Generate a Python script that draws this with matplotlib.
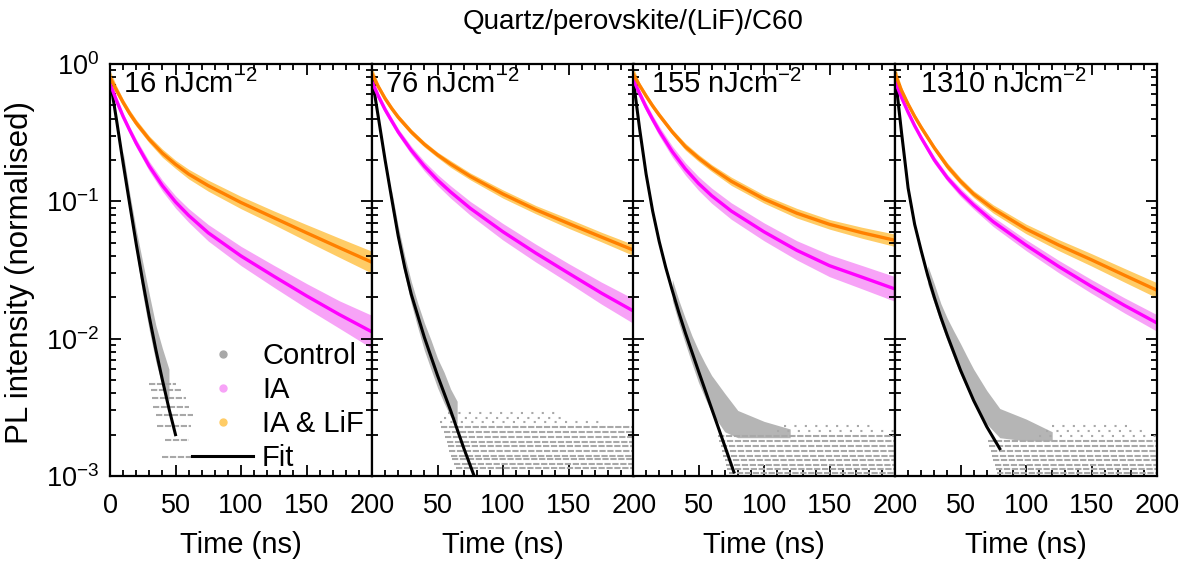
import matplotlib.pyplot as plt
import numpy as np
from matplotlib.lines import Line2D
from matplotlib.ticker import MultipleLocator, LogLocator

plt.rcParams['font.family'] = ['Liberation Sans', 'DejaVu Sans']
plt.rcParams['mathtext.fontset'] = 'custom'
plt.rcParams['mathtext.rm'] = 'Liberation Sans'
plt.rcParams['mathtext.it'] = 'Liberation Sans:italic'
plt.rcParams['mathtext.bf'] = 'Liberation Sans:bold'

fluences = ['16', '76', '155', '1310']

# IA and IA & LiF fits (normalised PL)
t_fit = [0, 5, 10, 15, 20, 30, 40, 50, 60, 75, 100, 125, 150, 175, 200]
lif_fit = [
    [0.80, 0.645, 0.525, 0.437, 0.372, 0.282, 0.224, 0.186, 0.158, 0.130, 0.098, 0.076, 0.059, 0.046, 0.036],
    [0.85, 0.68, 0.56, 0.475, 0.41, 0.32, 0.26, 0.218, 0.187, 0.152, 0.113, 0.087, 0.069, 0.055, 0.044],
    [0.85, 0.70, 0.585, 0.495, 0.425, 0.32, 0.25, 0.207, 0.175, 0.140, 0.104, 0.082, 0.068, 0.059, 0.052],
    [0.85, 0.64, 0.51, 0.415, 0.345, 0.245, 0.18, 0.14, 0.113, 0.088, 0.063, 0.048, 0.0375, 0.029, 0.0225],
]
ia_fit = [
    [0.72, 0.54, 0.415, 0.33, 0.265, 0.18, 0.13, 0.099, 0.079, 0.059, 0.040, 0.0285, 0.0205, 0.015, 0.0112],
    [0.74, 0.58, 0.465, 0.385, 0.32, 0.235, 0.18, 0.143, 0.117, 0.089, 0.060, 0.042, 0.030, 0.0215, 0.0158],
    [0.78, 0.61, 0.485, 0.395, 0.325, 0.23, 0.172, 0.135, 0.11, 0.085, 0.060, 0.044, 0.034, 0.028, 0.023],
    [0.75, 0.57, 0.445, 0.355, 0.29, 0.20, 0.148, 0.116, 0.094, 0.071, 0.048, 0.0335, 0.024, 0.0175, 0.013],
]
# half-width of the measured point clouds (decades)
lif_spread = [
    [0.05, 0.03, 0.025, 0.025, 0.025, 0.025, 0.03, 0.03, 0.035, 0.04, 0.045, 0.05, 0.06, 0.07, 0.08],
    [0.05, 0.02, 0.02, 0.02, 0.02, 0.02, 0.02, 0.02, 0.025, 0.025, 0.03, 0.03, 0.035, 0.035, 0.04],
    [0.05, 0.02, 0.02, 0.02, 0.02, 0.02, 0.025, 0.025, 0.025, 0.03, 0.03, 0.035, 0.035, 0.04, 0.045],
    [0.06, 0.025, 0.02, 0.02, 0.02, 0.02, 0.025, 0.025, 0.025, 0.03, 0.035, 0.04, 0.045, 0.05, 0.055],
]
ia_spread = [
    [0.05, 0.03, 0.025, 0.025, 0.03, 0.035, 0.04, 0.045, 0.05, 0.06, 0.07, 0.08, 0.09, 0.10, 0.12],
    [0.05, 0.025, 0.025, 0.025, 0.025, 0.03, 0.035, 0.04, 0.045, 0.05, 0.06, 0.065, 0.07, 0.08, 0.09],
    [0.05, 0.03, 0.03, 0.03, 0.035, 0.04, 0.045, 0.05, 0.055, 0.06, 0.065, 0.07, 0.08, 0.085, 0.09],
    [0.05, 0.025, 0.02, 0.02, 0.02, 0.025, 0.025, 0.03, 0.03, 0.035, 0.04, 0.045, 0.05, 0.055, 0.06],
]

# Control fits
ctrl_t = [
    [0, 5, 10, 15, 20, 25, 30, 35, 40, 45, 50],
    [0, 5, 10, 15, 20, 25, 30, 40, 50, 60, 70, 78],
    [0, 5, 10, 15, 20, 25, 30, 35, 40, 50, 60, 70, 77],
    [0, 5, 10, 15, 20, 25, 30, 35, 40, 50, 60, 70, 80],
]
ctrl_fit = [
    [0.78, 0.39, 0.19, 0.096, 0.049, 0.0261, 0.0144, 0.0083, 0.0050, 0.0031, 0.0020],
    [0.80, 0.40, 0.20, 0.105, 0.056, 0.033, 0.021, 0.0102, 0.0054, 0.0030, 0.0016, 0.001],
    [0.80, 0.34, 0.158, 0.085, 0.051, 0.033, 0.0224, 0.0155, 0.011, 0.0058, 0.0031, 0.00166, 0.00107],
    [0.85, 0.316, 0.125, 0.068, 0.0437, 0.0288, 0.020, 0.0143, 0.0105, 0.0059, 0.00355, 0.00229, 0.00158],
]
# Control point cloud above the noise floor
cloud_t = [
    [10, 15, 20, 25, 30, 35, 40, 45],
    [15, 20, 25, 30, 35, 40, 45, 50, 55, 60, 65],
    [30, 35, 40, 45, 50, 55, 60, 70, 80, 100, 120],
    [25, 30, 35, 40, 45, 50, 55, 60, 70, 80, 100, 120],
]
cloud_lo = [
    [0.17, 0.085, 0.043, 0.021, 0.0115, 0.0068, 0.0045, 0.0035],
    [0.09, 0.05, 0.029, 0.018, 0.012, 0.0082, 0.006, 0.0044, 0.0034, 0.0027, 0.0024],
    [0.019, 0.013, 0.0092, 0.0066, 0.0048, 0.0037, 0.0029, 0.0021, 0.0019, 0.0019, 0.0019],
    [0.025, 0.018, 0.013, 0.0096, 0.0072, 0.0055, 0.0043, 0.0035, 0.0024, 0.0019, 0.0018, 0.0018],
]
cloud_hi = [
    [0.23, 0.115, 0.062, 0.036, 0.021, 0.0125, 0.0085, 0.006],
    [0.12, 0.066, 0.04, 0.026, 0.018, 0.013, 0.0098, 0.0072, 0.0057, 0.0043, 0.0035],
    [0.027, 0.019, 0.014, 0.0105, 0.0082, 0.0066, 0.0054, 0.0040, 0.0030, 0.0025, 0.0022],
    [0.034, 0.025, 0.018, 0.014, 0.0113, 0.0092, 0.0074, 0.006, 0.0042, 0.0031, 0.0026, 0.0021],
]
# discrete count rows of the Control data (level, start, end in ns)
row_level = [
    [1.38e-3, 1.84e-3, 2.3e-3, 2.76e-3, 3.2e-3, 3.7e-3, 4.2e-3, 4.7e-3],
    [1.15e-3, 1.23e-3, 1.32e-3, 1.41e-3, 1.51e-3, 1.65e-3, 1.78e-3, 1.93e-3, 2.10e-3, 2.28e-3],
    [1.05e-3, 1.13e-3, 1.21e-3, 1.30e-3, 1.41e-3, 1.51e-3, 1.65e-3, 1.79e-3, 1.95e-3],
    [1.05e-3, 1.13e-3, 1.21e-3, 1.30e-3, 1.41e-3, 1.51e-3, 1.65e-3, 1.79e-3],
]
row_start = [
    [40, 42, 36, 35, 33, 32, 31, 30],
    [64, 62.6, 61, 60, 59, 58, 57, 56, 55, 53],
    [73, 72, 71, 70, 69, 68, 67, 66, 65],
    [78, 77, 76, 75, 74, 73, 72, 71],
]
row_end = [
    [62, 60, 62, 63, 60, 58, 55, 50],
    [200] * 10,
    [200] * 9,
    [200] * 8,
]
sparse_level = [[], [2.46e-3, 2.65e-3, 2.88e-3], [2.12e-3, 2.3e-3], [1.95e-3, 2.12e-3, 2.3e-3]]
sparse_start = [[], [52, 55, 58], [110, 115], [110, 115, 120]]
sparse_end = [[], [175, 150, 140], [200, 185], [200, 195, 180]]

c_ctrl = '#a8a8a8'
c_ia = '#f7a3f7'
c_lif = '#ffcc66'
c_ia_fit = '#ff00ff'
c_lif_fit = '#ff8000'

fig = plt.figure(figsize=(11.85, 5.63), dpi=100)
W, H = 1185, 563
lefts = [110, 372, 633, 895]
pw = 262
text_off = [0.05, 0.05, 0.069, 0.095]

axes = []
for i in range(4):
    ax = fig.add_axes([lefts[i] / W, 1 - 476 / H, pw / W, 412 / H])
    axes.append(ax)

    # Control
    ax.fill_between(cloud_t[i], cloud_lo[i], cloud_hi[i], color=c_ctrl, lw=0, alpha=0.85)
    ax.hlines(row_level[i], row_start[i], row_end[i], colors=c_ctrl, lw=1.5,
              linestyles=(0, (3, 0.8)))
    if sparse_level[i]:
        ax.hlines(sparse_level[i], sparse_start[i], sparse_end[i], colors=c_ctrl,
                  lw=1.5, linestyles=(0, (1, 4)))

    t = np.array(t_fit)
    ia = np.array(ia_fit[i])
    s = 10 ** np.array(ia_spread[i])
    ax.fill_between(t, ia / s, ia * s, color=c_ia, lw=0)
    lif = np.array(lif_fit[i])
    s = 10 ** np.array(lif_spread[i])
    ax.fill_between(t, lif / s, lif * s, color=c_lif, lw=0)

    ax.plot(ctrl_t[i], ctrl_fit[i], color='black', lw=2.2)
    ax.plot(t, ia, color=c_ia_fit, lw=2.4)
    ax.plot(t, lif, color=c_lif_fit, lw=2.4)

    ax.set_yscale('log')
    ax.set_ylim(1e-3, 1)
    ax.set_xlim(0, 200)
    ax.set_xticks([0, 50, 100, 150, 200])
    if i > 0:
        ax.set_xticklabels(['', '50', '100', '150', '200'])
        ax.tick_params(labelleft=False)
    ax.xaxis.set_minor_locator(MultipleLocator(10))
    ax.yaxis.set_minor_locator(LogLocator(subs=np.arange(2, 10)))
    ax.tick_params(which='both', direction='in', top=True, right=True,
                   labelsize=19.5, width=1.3)
    ax.tick_params(axis='x', pad=12)
    ax.tick_params(axis='y', pad=8)
    ax.tick_params(which='major', length=8)
    ax.tick_params(which='minor', length=4.5)
    for sp in ax.spines.values():
        sp.set_linewidth(1.6)
    ax.set_xlabel('Time (ns)', fontsize=21, labelpad=9)
    ax.text(text_off[i], 0.985, fluences[i] + r' nJcm$^{-2}$', transform=ax.transAxes,
            fontsize=21, va='top', ha='left')

handles = [
    Line2D([], [], ls='none', marker='o', ms=5, color=c_ctrl),
    Line2D([], [], ls='none', marker='o', ms=5, color=c_ia),
    Line2D([], [], ls='none', marker='o', ms=5, color=c_lif),
    Line2D([], [], color='black', lw=2.2),
]
axes[0].legend(handles, ['Control', 'IA', 'IA & LiF', 'Fit'], loc='lower left',
               bbox_to_anchor=(0.291, -0.005), frameon=False, fontsize=21,
               handlelength=2.1, handletextpad=0.3, labelspacing=0.21,
               borderpad=0, borderaxespad=0.2)

fig.text(633 / W, 1 - 22 / H, 'Quartz/perovskite/(LiF)/C60', fontsize=20,
         ha='center', va='center')
fig.text(20 / W, 1 - 272 / H, 'PL intensity (normalised)', fontsize=22.5,
         rotation=90, ha='center', va='center')

fig.savefig('out.png', dpi=100)
